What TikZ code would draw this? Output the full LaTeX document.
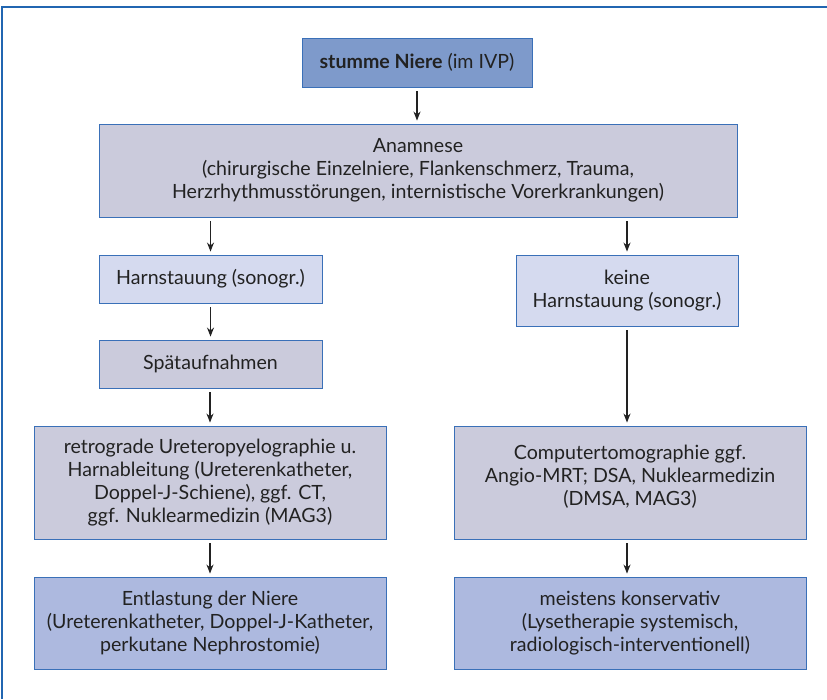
\documentclass[tikz,border=0pt]{standalone}
\usepackage{fontspec}
\setmainfont{Lato}
\usetikzlibrary{arrows.meta}
\definecolor{frameblue}{HTML}{2166B1}
\definecolor{edgeblue}{HTML}{3A70B8}
\definecolor{topfill}{HTML}{7E9ACB}
\definecolor{grayfill}{HTML}{CBCBDC}
\definecolor{lightfill}{HTML}{D5DAEF}
\definecolor{endfill}{HTML}{ADB9DF}
\definecolor{ink}{HTML}{222222}
\tikzset{
  box/.style={draw=edgeblue, line width=0.9pt, inner sep=0pt, align=center,
    text=ink, font=\fontsize{19.6}{23}\selectfont},
  topbox/.style={box, fill=topfill},
  graybox/.style={box, fill=grayfill},
  lightbox/.style={box, fill=lightfill},
  endbox/.style={box, fill=endfill},
  arr/.style={draw=ink, line width=1.1pt, -{Stealth[length=9pt,width=7pt]},
    shorten <=4pt, shorten >=3pt}
}
\begin{document}
\begin{tikzpicture}[x=1pt,y=-1pt]
\useasboundingbox (0,0) rectangle (827,699);
\draw[frameblue, line width=2pt] (1.5,699) -- (1.5,7) -- (827,7);

\node[topbox, minimum width=230pt, minimum height=49pt] (top) at (417,62.5)
  {\textbf{stumme Niere} (im IVP)};
\node[graybox, minimum width=638pt, minimum height=93pt] (anam) at (418,170.5)
  {Anamnese\\(chirurgische Einzelniere, Flankenschmerz, Trauma,\\Herzrhythmusstörungen, internistische Vorerkrankungen)};
\node[lightbox, minimum width=223pt, minimum height=48pt] (harn) at (210.5,279)
  {Harnstauung (sonogr.)};
\node[lightbox, minimum width=222pt, minimum height=71pt] (keine) at (627,290.5)
  {keine\\Harnstauung (sonogr.)};
\node[graybox, minimum width=223pt, minimum height=48pt] (spat) at (210.5,364)
  {Spätaufnahmen};
\node[graybox, minimum width=352pt, minimum height=113pt] (retro) at (210,482.5)
  {retrograde Ureteropyelographie u.\\Harnableitung (Ureterenkatheter,\\Doppel-J-Schiene), ggf. CT,\\ggf. Nuklearmedizin (MAG3)};
\node[graybox, minimum width=352pt, minimum height=113pt] (ct) at (630,482.5)
  {Computertomographie ggf.\\Angio-MRT; DSA, Nuklearmedizin\\(DMSA, MAG3)\\[-8pt]};
\node[endbox, minimum width=352pt, minimum height=92pt] (entl) at (210,623)
  {Entlastung der Niere\\(Ureterenkatheter, Doppel-J-Katheter,\\perkutane Nephrostomie)};
\node[endbox, minimum width=352pt, minimum height=92pt] (meist) at (630,623)
  {meistens konservativ\\(Lysetherapie systemisch,\\radiologisch-interventionell)};

\draw[arr] (top.south) -- (top.south |- anam.north);
\draw[arr] (anam.south -| harn.north) -- (harn.north);
\draw[arr] (anam.south -| keine.north) -- (keine.north);
\draw[arr] (harn.south) -- (spat.north);
\draw[arr] (spat.south -| retro.north) -- (retro.north);
\draw[arr] (retro.south) -- (entl.north);
\draw[arr] (keine.south) -- (keine.south |- ct.north);
\draw[arr] (ct.south -| keine.south) -- (meist.north -| keine.south);
\end{tikzpicture}
\end{document}
